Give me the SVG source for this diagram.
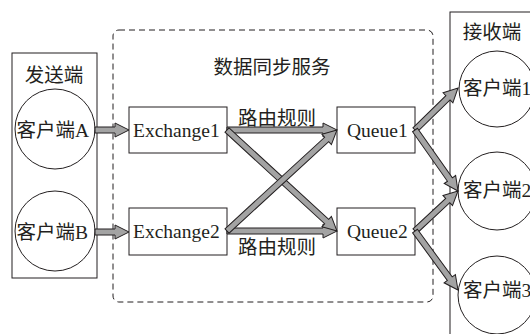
<svg xmlns="http://www.w3.org/2000/svg" width="530" height="334" viewBox="0 0 530 334">
<style>
.ln{fill:none;stroke:#231f20;stroke-width:1}
.box{fill:#fff;stroke:#231f20;stroke-width:1}
.dash{fill:none;stroke:#231f20;stroke-width:1;stroke-dasharray:6 4}
.t{font-family:"Liberation Serif","Noto Sans CJK SC",serif;font-size:19.5px;fill:#231f20}
.m{text-anchor:middle}
.ar{fill:#a3a3a3;stroke:#231f20;stroke-width:1;stroke-linejoin:miter}
</style>
<rect width="530" height="334" fill="#fff"/>
<g id="service">
<rect class="dash" x="113" y="30" width="320" height="272" rx="6"/>
<text class="t m" x="272" y="74">数据同步服务</text>
</g>
<g id="sender">
<rect class="ln" x="12" y="53" width="85" height="225"/>
<text class="t m" x="54" y="82">发送端</text>
</g>
<g id="receiver">
<rect class="ln" x="450" y="12" width="100" height="330"/>
<text class="t m" x="492" y="39">接收端</text>
</g>
<g id="clientA">
<circle class="ln" cx="55" cy="129" r="40"/>
<text class="t" x="16.5" y="137">客户端A</text>
</g>
<g id="clientB">
<circle class="ln" cx="55" cy="231" r="40"/>
<text class="t" x="16.5" y="239">客户端B</text>
</g>
<g id="exchange1">
<rect class="box" x="129" y="107" width="98" height="46"/>
<text class="t" x="133" y="137">Exchange1</text>
</g>
<g id="exchange2">
<rect class="box" x="129" y="208" width="98" height="47"/>
<text class="t" x="133" y="238">Exchange2</text>
</g>
<g id="queue1">
<rect class="box" x="337" y="107" width="78" height="46"/>
<text class="t" x="347" y="137">Queue1</text>
</g>
<g id="queue2">
<rect class="box" x="337" y="208" width="78" height="47"/>
<text class="t" x="347" y="238">Queue2</text>
</g>
<g id="client1">
<circle class="ln" cx="497" cy="89" r="38"/>
<text class="t" x="463" y="95">客户端1</text>
</g>
<g id="client2">
<circle class="ln" cx="497" cy="191" r="39"/>
<text class="t" x="463" y="197">客户端2</text>
</g>
<g id="client3">
<circle class="ln" cx="497" cy="295" r="39"/>
<text class="t" x="463" y="297">客户端3</text>
</g>
<g id="connectors">
<path class="ar" transform="translate(95,130)" d="M0,-3 H20 V-7 L34,0 L20,7 V3 H0 Z"/>
<path class="ar" transform="translate(95,232)" d="M0,-3 H20 V-7 L34,0 L20,7 V3 H0 Z"/>
<path class="ar" transform="translate(227,130)" d="M0,-3 H96 V-7 L110,0 L96,7 V3 H0 Z"/>
<path class="ar" transform="translate(227,231)" d="M0,-3 H96 V-7 L110,0 L96,7 V3 H0 Z"/>
<path class="ar" transform="translate(227,130) rotate(42.56)" d="M0,-3 H135.3 V-7 L149.3,0 L135.3,7 V3 H0 Z"/>
<path class="ar" transform="translate(227,231) rotate(-42.56)" d="M0,-3 H135.3 V-7 L149.3,0 L135.3,7 V3 H0 Z"/>
<path class="ar" transform="translate(415,130) rotate(-44.33)" d="M0,-3 H46.1 V-7 L60.1,0 L46.1,7 V3 H0 Z"/>
<path class="ar" transform="translate(415,130) rotate(54.82)" d="M0,-3 H60.6 V-7 L74.6,0 L60.6,7 V3 H0 Z"/>
<path class="ar" transform="translate(415,231) rotate(-42.93)" d="M0,-3 H44.7 V-7 L58.7,0 L44.7,7 V3 H0 Z"/>
<path class="ar" transform="translate(415,231) rotate(53.92)" d="M0,-3 H59 V-7 L73,0 L59,7 V3 H0 Z"/>
<text class="t m" x="277" y="125">路由规则</text>
<text class="t m" x="277" y="254">路由规则</text>
</g>
</svg>
